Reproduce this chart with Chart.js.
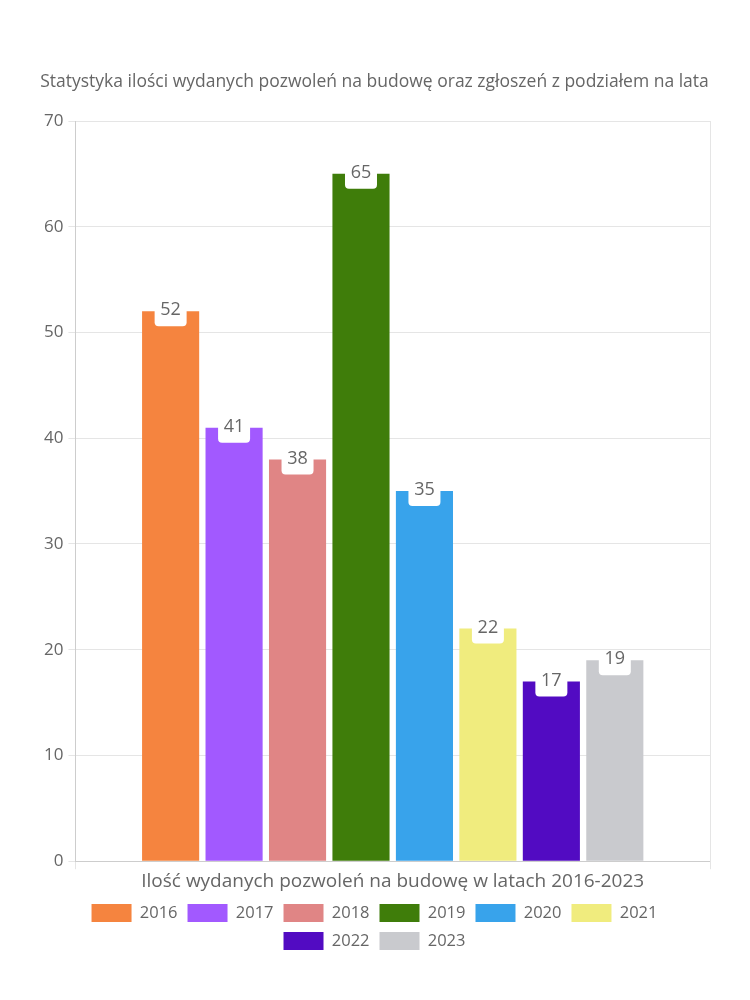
<!DOCTYPE html>
<html>
<head>
<meta charset="utf-8">
<script src="https://cdn.jsdelivr.net/npm/chart.js@4.4.0/dist/chart.umd.min.js"></script>
<style>
  body { margin: 0; background: #fff; }
  #wrap { width: 750px; height: 1000px; position: relative; }
</style>
</head>
<body>
<div id="wrap"><canvas id="chart"></canvas></div>
<script>
// dane z wykresu
const categories = ['Ilość wydanych pozwoleń na budowę w latach 2016-2023'];
const years = ['2016', '2017', '2018', '2019', '2020', '2021', '2022', '2023'];
const permits = [52, 41, 38, 65, 35, 22, 17, 19];
const colors = ['#F5843F', '#A259FF', '#E08585', '#3F7D0A', '#38A3EB', '#F0EC7E', '#520BC2', '#C9CACE'];
const yTicksMax = 70;

const textColor = '#666';
const fontFamily = "'Open Sans', sans-serif";

// etykiety wartosci w bialych ramkach na szczycie slupka
const valueLabels = {
  id: 'valueLabels',
  afterDatasetsDraw(chart) {
    const ctx = chart.ctx;
    ctx.save();
    chart.data.datasets.forEach((ds, i) => {
      const meta = chart.getDatasetMeta(i);
      if (meta.hidden) return;
      meta.data.forEach((bar, j) => {
        const x = bar.x, y = bar.y;
        const w = 32, h = 15, r = 4;
        ctx.fillStyle = '#fff';
        ctx.beginPath();
        ctx.moveTo(x - w / 2, y - 1);
        ctx.lineTo(x + w / 2, y - 1);
        ctx.lineTo(x + w / 2, y + h - r);
        ctx.quadraticCurveTo(x + w / 2, y + h, x + w / 2 - r, y + h);
        ctx.lineTo(x - w / 2 + r, y + h);
        ctx.quadraticCurveTo(x - w / 2, y + h, x - w / 2, y + h - r);
        ctx.closePath();
        ctx.fill();
        ctx.fillStyle = textColor;
        ctx.font = '18px ' + fontFamily;
        ctx.textAlign = 'center';
        ctx.textBaseline = 'middle';
        ctx.fillText(ds.data[j], x, y - 1);
      });
    });
    ctx.restore();
  }
};

Chart.defaults.font.family = fontFamily;
Chart.defaults.color = textColor;

new Chart(document.getElementById('chart'), {
  type: 'bar',
  data: {
    labels: categories,
    datasets: years.map((y, i) => ({
      label: y,
      data: [permits[i]],
      backgroundColor: colors[i],
      borderColor: colors[i],
      borderWidth: 0
    }))
  },
  options: {
    responsive: true,
    maintainAspectRatio: false,
    animation: false,
    layout: { padding: { top: 72, left: 39, right: 40, bottom: 40 } },
    plugins: {
      title: {
        display: true,
        text: 'Statystyka ilości wydanych pozwoleń na budowę oraz zgłoszeń z podziałem na lata',
        font: { size: 17.5, weight: 'normal' },
        color: textColor,
        padding: { top: 0, bottom: 28 },
        fullSize: true
      },
      legend: {
        position: 'bottom',
        labels: { boxWidth: 40, boxHeight: 18, font: { size: 16.5 }, color: textColor, padding: 10 }
      },
      tooltip: { enabled: false }
    },
    scales: {
      x: {
        grid: { color: '#e5e5e5', tickLength: 8 },
        ticks: { font: { size: 19 }, color: textColor, padding: 1 }
      },
      y: {
        min: 0,
        max: yTicksMax,
        ticks: { stepSize: 10, font: { size: 17 }, color: textColor, padding: 5 },
        grid: { color: '#e5e5e5', tickLength: 7 }
      }
    }
  },
  plugins: [valueLabels]
});
</script>
</body>
</html>
